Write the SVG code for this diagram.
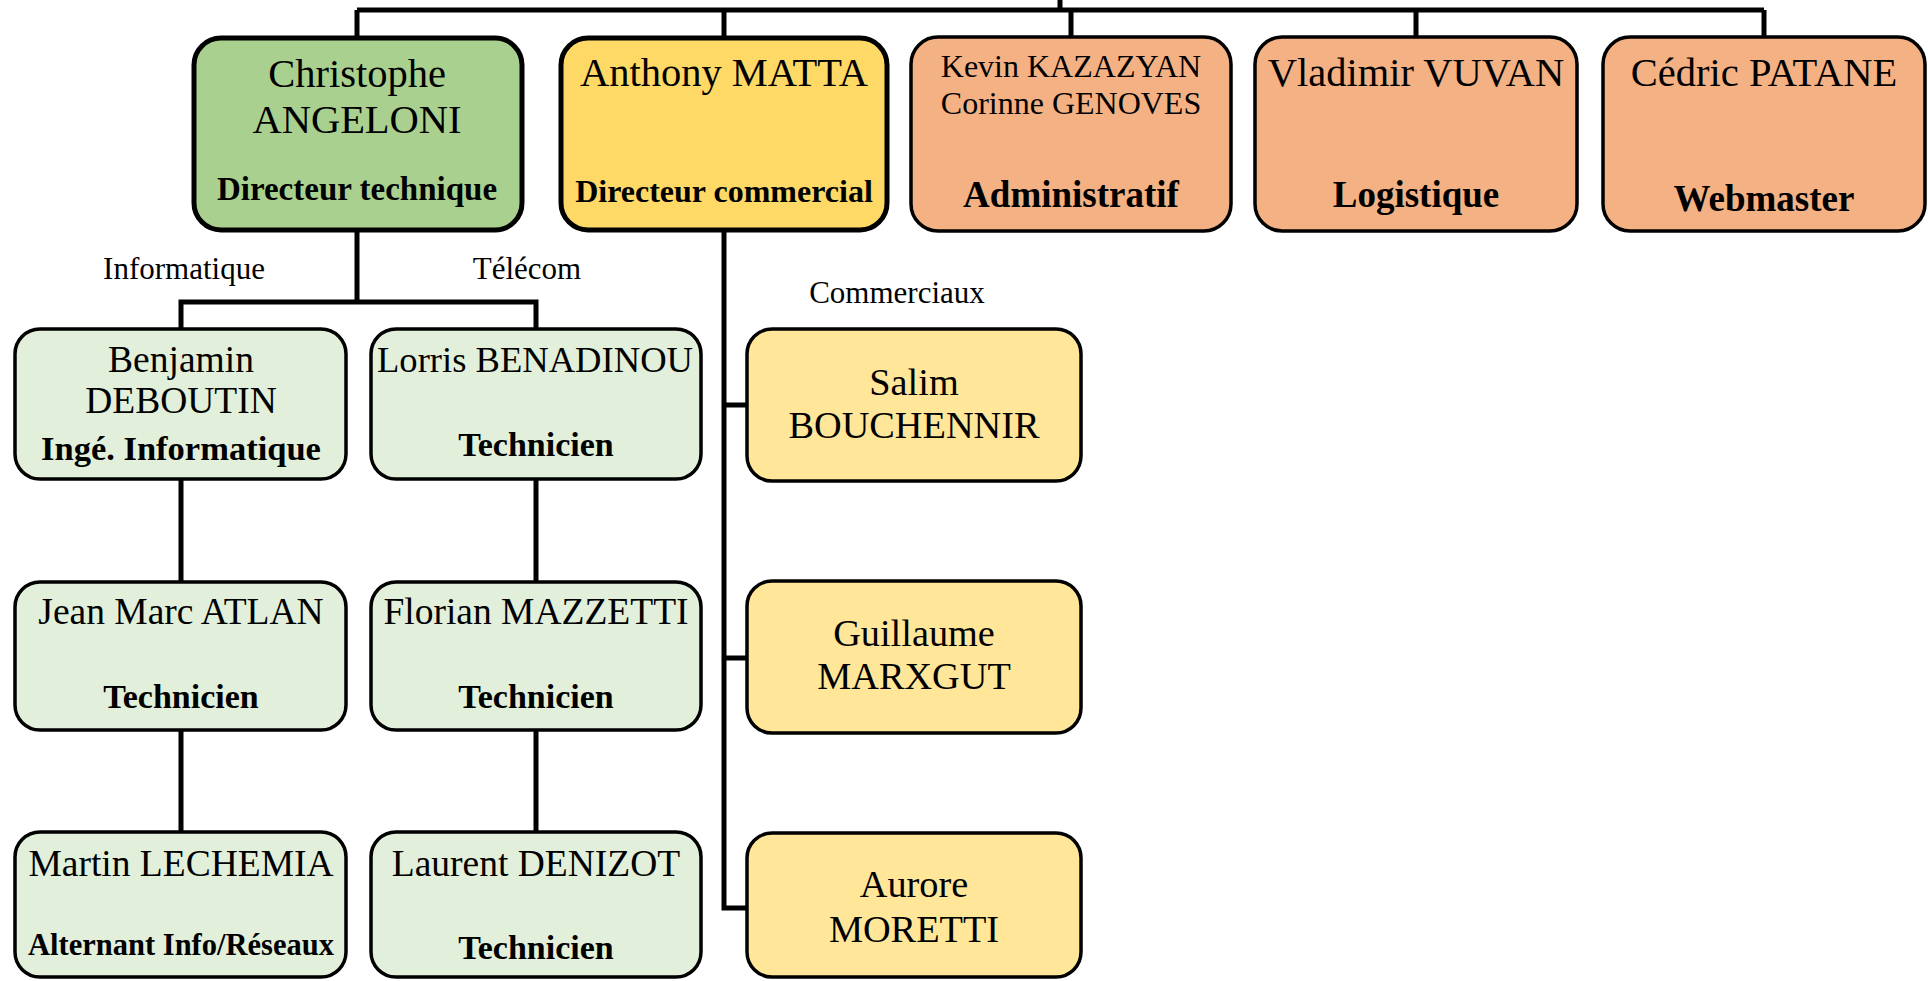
<svg xmlns="http://www.w3.org/2000/svg" width="1928" height="981" viewBox="0 0 1928 981">
<style>
text{font-family:"Liberation Serif","Times New Roman",serif;fill:#000;text-anchor:middle}
.n40{font-size:40.5px}
.n37{font-size:37.5px}
.n38{font-size:38.3px}
.n32{font-size:32px}
.lb{font-size:31px}
.b{font-weight:bold}
.dir{stroke:#000;stroke-width:5}
.box{stroke:#000;stroke-width:3.5}
.g1{fill:#A9D08E}
.y1{fill:#FFD966}
.or{fill:#F4B183}
.g2{fill:#E2EFDA}
.y2{fill:#FFE699}
.con{fill:none;stroke:#000;stroke-width:5;stroke-linejoin:miter}
</style>
<rect width="1928" height="981" fill="#fff"/>
<g id="connectors" class="con">
<path d="M1060 0 V10"/>
<path d="M357 10 H1764"/>
<path d="M357 10 V38 M724 10 V38 M1071 10 V37 M1416 10 V37 M1764 10 V37"/>
<path d="M357 230 V302 M181 329 V302 H536 V329"/>
<path d="M181 479 V582 M181 730 V832 M536 479 V582 M536 730 V832"/>
<path d="M724 230 V908 H747 M724 405 H747 M724 658 H747"/>
</g>
<g id="labels">
<text class="lb" x="184" y="279">Informatique</text>
<text class="lb" x="527" y="279">Télécom</text>
<text class="lb" x="897" y="303">Commerciaux</text>
</g>
<g id="christophe">
<rect class="dir g1" x="194" y="38" width="328" height="192" rx="27"/>
<text class="n40" x="357" y="87">Christophe</text>
<text class="n40" x="357" y="133">ANGELONI</text>
<text class="b" style="font-size:33px" x="357" y="200">Directeur technique</text>
</g>
<g id="anthony">
<rect class="dir y1" x="561" y="38" width="326" height="192" rx="27"/>
<text class="n40" x="724" y="86">Anthony MATTA</text>
<text class="b" style="font-size:32px" x="724" y="202">Directeur commercial</text>
</g>
<g id="kevin">
<rect class="box or" x="911" y="37" width="320" height="194" rx="27"/>
<text class="n32" x="1071" y="77">Kevin KAZAZYAN</text>
<text class="n32" x="1071" y="114">Corinne GENOVES</text>
<text class="b" style="font-size:37px" x="1071" y="207">Administratif</text>
</g>
<g id="vladimir">
<rect class="box or" x="1255" y="37" width="322" height="194" rx="27"/>
<text class="n40" x="1416" y="86">Vladimir VUVAN</text>
<text class="b" style="font-size:37px" x="1416" y="207">Logistique</text>
</g>
<g id="cedric">
<rect class="box or" x="1603" y="37" width="322" height="194" rx="27"/>
<text class="n40" x="1764" y="86">Cédric PATANE</text>
<text class="b" style="font-size:37px" x="1764" y="211">Webmaster</text>
</g>
<g id="benjamin">
<rect class="box g2" x="15" y="329" width="331" height="150" rx="25"/>
<text class="n37" x="181" y="372">Benjamin</text>
<text class="n37" x="181" y="413">DEBOUTIN</text>
<text class="b" style="font-size:34.5px" x="181" y="460">Ingé. Informatique</text>
</g>
<g id="lorris">
<rect class="box g2" x="371" y="329" width="330" height="150" rx="25"/>
<text class="n37" style="font-size:36.6px" x="535" y="372">Lorris BENADINOU</text>
<text class="b" style="font-size:34px" x="536" y="456">Technicien</text>
</g>
<g id="jeanmarc">
<rect class="box g2" x="15" y="582" width="331" height="148" rx="25"/>
<text class="n37" x="181" y="624">Jean Marc ATLAN</text>
<text class="b" style="font-size:34px" x="181" y="708">Technicien</text>
</g>
<g id="florian">
<rect class="box g2" x="371" y="582" width="330" height="148" rx="25"/>
<text class="n37" x="536" y="624">Florian MAZZETTI</text>
<text class="b" style="font-size:34px" x="536" y="708">Technicien</text>
</g>
<g id="martin">
<rect class="box g2" x="15" y="832" width="331" height="145" rx="25"/>
<text class="n37" x="181" y="876">Martin LECHEMIA</text>
<text class="b" style="font-size:30.5px" x="181" y="955">Alternant Info/Réseaux</text>
</g>
<g id="laurent">
<rect class="box g2" x="371" y="832" width="330" height="145" rx="25"/>
<text class="n37" x="536" y="876">Laurent DENIZOT</text>
<text class="b" style="font-size:34px" x="536" y="959">Technicien</text>
</g>
<g id="salim">
<rect class="box y2" x="747" y="329" width="334" height="152" rx="25"/>
<text class="n38" x="914" y="395">Salim</text>
<text class="n38" x="914" y="438">BOUCHENNIR</text>
</g>
<g id="guillaume">
<rect class="box y2" x="747" y="581" width="334" height="152" rx="25"/>
<text class="n38" x="914" y="646">Guillaume</text>
<text class="n38" x="914" y="689">MARXGUT</text>
</g>
<g id="aurore">
<rect class="box y2" x="747" y="833" width="334" height="144" rx="25"/>
<text class="n38" x="914" y="897">Aurore</text>
<text class="n38" x="914" y="942">MORETTI</text>
</g>
</svg>
